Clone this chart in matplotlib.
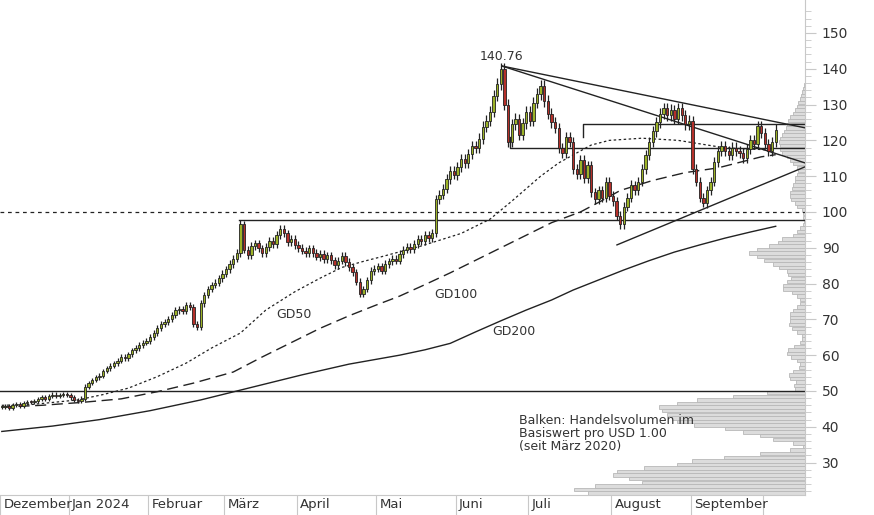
import numpy as np
import matplotlib.pyplot as plt

# daily closes per month
dec = [45.5, 45.8, 45.2, 46.0, 46.4, 45.9, 46.6, 47.0, 46.8, 47.3, 47.8, 48.2, 47.9, 48.6, 49.0, 48.7, 48.9, 49.2, 48.8]
jan = [48.2, 47.6, 47.3, 47.9, 51.2, 52.3, 53.1, 53.8, 54.3, 55.6, 56.4, 57.0, 57.8, 58.5, 59.6, 59.2, 60.3, 61.4, 62.0, 62.8, 63.5, 64.0]
feb = [65.0, 66.3, 67.5, 68.6, 69.4, 70.0, 71.2, 72.5, 73.0, 72.4, 74.0, 73.5, 68.8, 67.9, 74.5, 76.8, 78.5, 79.6, 80.2, 81.5, 82.8]
mar = [84.0, 85.5, 87.0, 88.6, 96.5, 89.5, 88.0, 90.5, 91.2, 89.8, 88.6, 90.2, 92.0, 91.0, 93.5, 95.2, 94.0, 91.5, 92.4, 90.8]
apr = [90.0, 89.2, 88.5, 89.8, 88.6, 87.5, 88.2, 86.8, 87.9, 86.5, 85.2, 86.4, 87.8, 86.0, 84.5, 83.2, 80.5, 77.2, 78.5, 81.0, 83.5, 84.2]
may = [84.8, 83.6, 85.5, 86.2, 87.0, 86.4, 88.2, 89.5, 90.3, 89.6, 91.0, 92.4, 91.8, 93.5, 92.8, 94.2, 103.5, 104.8, 106.5, 109.2, 111.5, 110.4]
jun = [112.5, 114.8, 113.6, 116.2, 118.5, 117.8, 120.5, 123.8, 125.5, 128.0, 132.5, 135.8, 140.0, 130.0, 119.5, 124.5, 126.0, 121.5, 124.8, 128.0]
jul = [125.5, 130.5, 133.0, 135.2, 131.0, 127.5, 125.0, 123.5, 118.0, 116.5, 121.0, 119.5, 112.0, 110.5, 114.5, 109.5, 113.0, 105.5, 103.5, 106.0, 104.0, 108.5, 104.5]
aug = [103.0, 99.0, 96.5, 101.5, 104.0, 107.5, 106.0, 108.5, 112.0, 116.0, 119.5, 122.5, 125.0, 127.5, 129.0, 127.0, 128.5, 126.0, 129.0, 127.0, 124.5, 125.5]
sep = [112.0, 108.5, 104.0, 102.5, 106.0, 108.5, 114.0, 117.0, 118.5, 117.0, 116.0, 118.0, 117.0, 116.5, 115.0, 117.5, 120.0, 119.0, 124.0, 122.0, 119.0, 117.0, 119.5, 123.0]
months = [dec, jan, feb, mar, apr, may, jun, jul, aug, sep]
month_labels = ["Dezember", "Jan 2024", "Februar", "März", "April", "Mai", "Juni", "Juli", "August", "September"]
peak_label = 140.76

# moving averages (index, value) samples
gd50_x = [0, 8, 21, 28, 35, 43, 51, 58, 66, 73, 81, 88, 94, 100, 105, 116, 127, 135, 141, 149, 154, 159, 163, 168, 177, 187, 200, 213]
gd50_y = [46, 46.2, 47.5, 49, 50.8, 54, 57.8, 62, 66.2, 72.6, 77.7, 81.5, 84.5, 86.2, 87.5, 90.5, 94, 98, 103, 110, 113.7, 116.5, 118.7, 120, 120.6, 120, 117.9, 117.3]
gd100_x = [0, 11, 22, 33, 43, 53, 64, 72, 80, 88, 96, 103, 110, 117, 124, 131, 138, 145, 152, 160, 166, 171, 180, 189, 198, 210, 214]
gd100_y = [45.5, 46, 46.8, 47.8, 49.8, 52.2, 55.3, 59.5, 63.5, 67.5, 71, 73.8, 76.5, 79.7, 83, 86.5, 90, 93.5, 97, 100, 103.2, 106, 108.8, 111, 112.3, 115.4, 116]
gd200_x = [0, 14, 27, 41, 55, 69, 83, 96, 110, 117, 124, 131, 138, 145, 152, 158, 165, 172, 179, 186, 193, 200, 207, 214]
gd200_y = [38.7, 40.2, 42, 44.5, 47.5, 51, 54.5, 57.5, 60, 61.5, 63.3, 66.5, 69.6, 72.6, 75.4, 78.2, 81, 83.8, 86.4, 88.8, 90.8, 92.7, 94.4, 96]

# volume profile: price bucket -> volume
vol_price = np.arange(21, 137)
vol = [216, 217, 231, 210, 163, 176, 192, 188, 161, 128, 113, 81, 45, 15, 2, 12, 32, 45, 62, 80,
       111, 128, 133, 138, 143, 146, 128, 108, 72, 38,
       10, 11, 9, 15, 16, 12, 6, 5, 8, 14, 18, 17, 11, 5, 3, 3, 8, 13, 16, 15,
       15, 15, 12, 8, 5, 5, 8, 13, 22, 22, 18, 14, 17, 18, 26, 32, 41, 48, 56, 48,
       36, 27, 23, 12, 8, 5, 2, 1, 2, 2, 3, 8, 10, 14, 15, 15, 13, 12, 10, 10,
       8, 7, 8, 12, 15, 18, 23, 25, 25, 26, 25, 23, 21, 19, 18, 17, 15, 12, 10, 8,
       7, 5, 4, 3, 2, 1]

closes = np.concatenate(months)
opens = np.concatenate([[closes[0]], closes[:-1]])
highs = np.maximum(opens, closes) + 0.012 * closes
lows = np.minimum(opens, closes) - 0.012 * closes
idx = np.arange(len(closes))
month_start = np.cumsum([0] + [len(m) for m in months])

fig = plt.figure(figsize=(8.74, 5.15), dpi=100)
ax = fig.add_axes([0, 20 / 515, 805 / 874, 495 / 515])
ax.set_xlim(-0.33, 222.1)
ax.set_ylim(20.95, 159.2)

# volume profile behind everything
axv = ax.twiny()
axv.set_xlim(805, 0)
axv.barh(vol_price[:len(vol)] - 0.5, vol, height=0.95, color="#dcdcdc", edgecolor="#b8b8b8", lw=0.6, zorder=1)
axv.set_xticks([])
for s in axv.spines.values():
    s.set_visible(False)
ax.set_zorder(axv.get_zorder() + 1)
ax.patch.set_visible(False)

lc = "#222222"
ax.axhline(50, color=lc, lw=1)
ax.axhline(100, color=lc, lw=0.9, ls=(0, (3, 3)))
# support / resistance lines
ax.plot([65.5, 222.1], [97.8, 97.8], color=lc, lw=1)
ax.plot([140.5, 140.5, 222.1], [121, 118, 118], color=lc, lw=1)
ax.plot([160.7, 160.7, 222.1], [121, 124.6, 124.6], color=lc, lw=1)
ax.plot([138.3, 222.1], [140.76, 123.5], color=lc, lw=1)
ax.plot([138.3, 222.1], [140.76, 113.7], color=lc, lw=1)
ax.plot([170.1, 222.1], [90.8, 112.6], color=lc, lw=1)

ax.plot(gd50_x, gd50_y, color=lc, lw=0.9, ls=(0, (2, 2)))
ax.plot(gd100_x, gd100_y, color=lc, lw=1, ls=(0, (8, 4)))
ax.plot(gd200_x, gd200_y, color=lc, lw=1)

# candles
up = closes >= opens
ax.vlines(idx, lows, highs, color="#222222", lw=0.9, zorder=3)
body = np.maximum(np.abs(closes - opens), 0.3)
ax.bar(idx, body, bottom=np.minimum(opens, closes), width=0.65,
       color=np.where(up, "#9cb227", "#b5302a"), edgecolor="#222222", lw=0.6, zorder=4)

tc = "#333333"
ax.text(138.3, 141.5, f"{peak_label:.2f}", ha="center", va="bottom", fontsize=9, color=tc)
ax.text(76, 70.5, "GD50", fontsize=9, color=tc)
ax.text(119.5, 76, "GD100", fontsize=9, color=tc)
ax.text(135.5, 65.5, "GD200", fontsize=9, color=tc)
ax.text(143, 43.5, "Balken: Handelsvolumen im\nBasiswert pro USD 1.00\n(seit März 2020)",
        fontsize=9, color=tc, va="top", linespacing=1.0)

# axes styling
for s in ["top", "left"]:
    ax.spines[s].set_visible(False)
ax.spines["right"].set_color("#c8c8c8")
ax.spines["bottom"].set_color("#c8c8c8")
ax.yaxis.tick_right()
ax.set_yticks(np.arange(30, 151, 10))
ax.set_yticks(np.arange(22, 158, 2), minor=True)
ax.tick_params(axis="y", which="major", length=8, color="#c8c8c8", labelcolor=tc, labelsize=10, pad=4)
ax.tick_params(axis="y", which="minor", length=4, color="#c8c8c8")
ticks = list(month_start[:-1] - 0.5) + [month_start[-1] - 4.5]
ax.set_xticks(ticks)
ax.set_xticklabels([])
ax.tick_params(axis="x", length=20, color="#c8c8c8", direction="out")
for i, lab in enumerate(month_labels):
    ax.text(month_start[i] + 0.4, 20.1, lab, fontsize=9.5, color=tc, va="top", ha="left")

fig.savefig("out.png", dpi=100)
